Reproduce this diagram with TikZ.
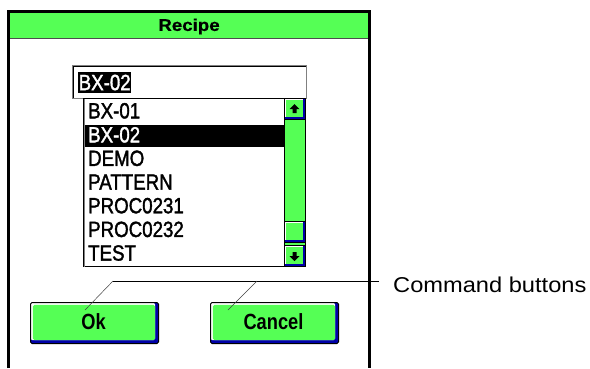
\documentclass[tikz,border=0pt]{standalone}
\usepackage{fontspec}
\setmainfont{Liberation Sans}
\newfontfamily\titlefont[FakeStretch=1.1,FakeBold=0.6]{Liberation Sans}
\newfontfamily\listfont[FakeStretch=0.85,FakeBold=1.6]{Liberation Sans}
\newfontfamily\btnfont[FakeStretch=0.83]{Liberation Sans}
\newfontfamily\notefont[FakeStretch=1.1]{Liberation Sans}
\usetikzlibrary{calc}
\definecolor{wgreen}{RGB}{85,255,85}
\definecolor{wblue}{RGB}{0,0,168}
\definecolor{wgray}{RGB}{128,128,128}
\tikzset{
  frame/.style={draw=black, line width=3pt},
  bevel/.style={fill=wgreen, draw=black, line width=1pt, inner sep=0pt,
    path picture={
      \fill[wblue] (path picture bounding box.south west) rectangle (path picture bounding box.north east);
      \fill[white] ($(path picture bounding box.south west)+(0,#1)$) rectangle ($(path picture bounding box.north east)+(-#1,0)$);
      \fill[wgreen] ($(path picture bounding box.south west)+(0.7*#1,#1)$) rectangle ($(path picture bounding box.north east)+(-#1,-0.7*#1)$);
    }},
  cmdbutton/.style={bevel=3.5pt, rounded corners=1.5pt, minimum width=128pt, minimum height=41pt, anchor=north west},
  btnlabel/.style={inner sep=0pt, font=\btnfont\bfseries\fontsize{22}{26}\selectfont},
  scrollbtn/.style={bevel=2.5pt, minimum width=21pt, minimum height=21pt, anchor=north west},
  item/.style={anchor=west, inner sep=0pt, font=\listfont\fontsize{22}{26}\selectfont},
  callout/.style={draw=black, line width=0.9pt},
  leader/.style={draw=black!75, line width=0.5pt},
}
\begin{document}
\begin{tikzpicture}[x=1pt, y=-1pt]
\useasboundingbox (0,0) rectangle (590,368);

% dialog window: title bar and frame
\fill[wgreen] (10,12) rectangle (368,38);
\draw[wgray!60!black, line width=1pt] (10,38.5) -- (368,38.5);
\node[inner sep=0pt, font=\titlefont\bfseries\fontsize{17}{20}\selectfont] (title) at (189,26.5) {Recipe};
\draw[frame] (8.5,368) -- (8.5,11) -- (369,11) -- (369,368);

% combo box edit field with selected text
\node[draw=wgray, line width=1pt, minimum width=234pt, minimum height=33pt, anchor=north west, inner sep=0pt] (field) at (72,65) {};
\draw[black, line width=0.8pt] ($(field.south west)+(1.3pt,1pt)$) -- ($(field.north west)+(1.3pt,-1.3pt)$) -- ($(field.north east)+(-1pt,-1.3pt)$);
\node[fill=black, text=white, anchor=west, inner sep=0pt, minimum width=53pt, minimum height=21pt,
      font=\listfont\fontsize{22}{26}\selectfont] (sel) at (78,82.5) {BX-02};

% drop-down list box
\node[draw=black, line width=1pt, minimum width=222pt, minimum height=168pt, anchor=north west, inner sep=0pt] (list) at (83,98) {};
\draw[wgray, line width=0.8pt] ($(list.south west)+(1.2pt,0.5pt)$) -- ($(list.north west)+(1.2pt,-0.5pt)$);
\fill[black] (85,124.5) rectangle (284,146.5);
\node[item] (i1) at (88,110.8) {BX-01};
\node[item, text=white] (i2) at (88,134.8) {BX-02};
\node[item] (i3) at (88,158.3) {DEMO};
\node[item] (i4) at (88,182) {PATTERN};
\node[item] (i5) at (88,205.7) {PROC0231};
\node[item] (i6) at (88,229.4) {PROC0232};
\node[item] (i7) at (88,253) {TEST};

% vertical scroll bar
\node[fill=wgreen, draw=black, line width=1pt, minimum width=21pt, minimum height=168pt, anchor=north west, inner sep=0pt] (track) at (284,98) {};
\node[scrollbtn] (up) at (284,98) {};
\node[scrollbtn] (thumb) at (284,221) {};
\node[scrollbtn] (down) at (284,245) {};
\fill[black] ($(up.center)+(-0.5pt,5pt)$) -- ($(up.center)+(4.5pt,0)$) -- ($(up.center)+(1.5pt,0)$) -- ($(up.center)+(1.5pt,-4pt)$)
  -- ($(up.center)+(-2.5pt,-4pt)$) -- ($(up.center)+(-2.5pt,0)$) -- ($(up.center)+(-5.5pt,0)$) -- cycle;
\fill[black] ($(down.center)+(-0.5pt,-5pt)$) -- ($(down.center)+(4.5pt,0)$) -- ($(down.center)+(1.5pt,0)$) -- ($(down.center)+(1.5pt,4pt)$)
  -- ($(down.center)+(-2.5pt,4pt)$) -- ($(down.center)+(-2.5pt,0)$) -- ($(down.center)+(-5.5pt,0)$) -- cycle;

% command buttons
\node[cmdbutton] (ok) at (30,302) {};
\node[btnlabel] (oklabel) at ($(ok.center)+(-1pt,1pt)$) {Ok};
\node[cmdbutton] (cancel) at (210,302) {};
\node[btnlabel] (cancellabel) at ($(cancel.center)+(-1pt,1pt)$) {Cancel};

% callout
\node[anchor=west, inner sep=0pt, font=\notefont\fontsize{21.5}{25}\selectfont] (cmd) at (393,285) {Command buttons};
\coordinate (j1) at (113,281);
\coordinate (j2) at (257,281);
\coordinate (ce) at (379,281);
\coordinate (okp) at (85,310);
\coordinate (cap) at (228,310);
\draw[callout] (j1) -- (ce);
\draw[leader] (j1) -- (okp);
\draw[leader] (j2) -- (cap);
\end{tikzpicture}
\end{document}
